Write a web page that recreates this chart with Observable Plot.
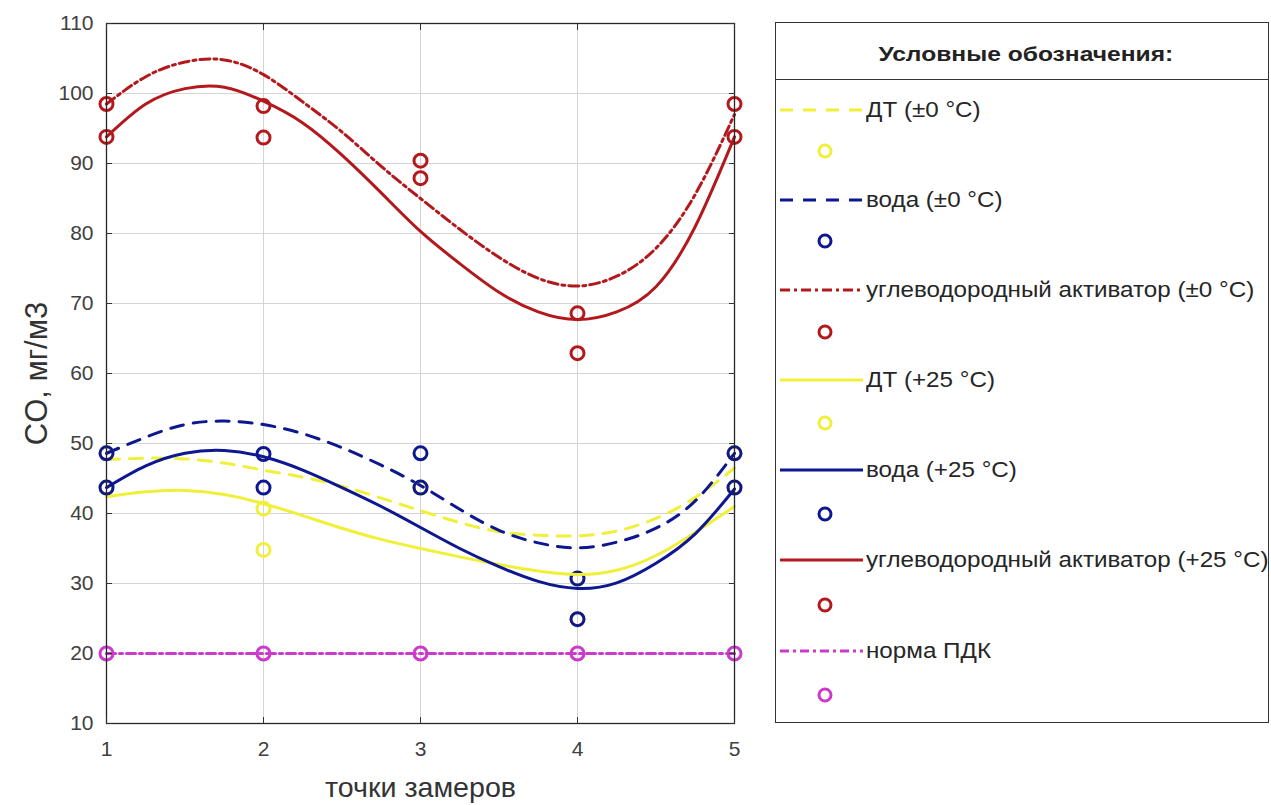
<!DOCTYPE html>
<html>
<head>
<meta charset="utf-8">
<script src="https://cdn.jsdelivr.net/npm/d3@7"></script>
<script src="https://cdn.jsdelivr.net/npm/@observablehq/plot@0.6"></script>
<style>
  body { margin: 0; background: #fff; font-family: "Liberation Sans", Arial, sans-serif; }
  #wrap { position: relative; width: 1271px; height: 805px; overflow: hidden; }
  #chart { position: absolute; left: 0; top: 0; }
  #legend { position: absolute; left: 775px; top: 22px; width: 494px; height: 701px; border: 1.3px solid #333; box-sizing: border-box; background: #fff; }
  #legend .title { height: 57px; border-bottom: 1.3px solid #333; display: flex; align-items: center; justify-content: center; padding-left: 8px; padding-top: 5px; box-sizing: border-box; font-weight: bold; font-size: 20.5px; color: #222; }
  #legend .title span { display: inline-block; transform: scaleX(1.2); }
  #legend .row { position: absolute; left: 0; height: 30px; display: flex; align-items: center; font-size: 22px; color: #262626; white-space: nowrap; }
  #legend .row span { display: inline-block; transform: scaleX(1.1); transform-origin: left center; }
</style>
</head>
<body>
<div id="wrap">
  <div id="chart"></div>
  <div id="legend"><div class="title"><span>Условные обозначения:</span></div></div>
</div>
<script>
// ---- data ----
const xTicks = [1, 2, 3, 4, 5];
const yTicks = [10, 20, 30, 40, 50, 60, 70, 80, 90, 100, 110];

// measured points (circles)
const dtZeroPts    = [48.6, 40.7, 43.7, 30.7, 48.6];
const vodaZeroPts  = [48.6, 48.5, 48.6, 30.7, 48.6];
const uvaZeroPts   = [98.5, 98.2, 90.4, 68.6, 98.5];
const dt25Pts      = [43.7, 34.8, 43.7, 24.9, 43.7];
const voda25Pts    = [43.7, 43.7, 43.7, 24.9, 43.7];
const uva25Pts     = [93.8, 93.7, 87.9, 62.9, 93.8];
const pdkPts       = [20, 20, 20, 20, 20];

// approximating curves at these positions
const curveX = [1, 1.25, 1.5, 1.75, 2, 2.25, 2.5, 2.75, 3, 3.25, 3.5, 3.75, 4, 4.25, 4.5, 4.75, 5];
const dtZeroCurve   = [47.7, 47.9, 47.8, 47.2, 46.2, 45.2, 43.9, 42.2, 40.4, 38.7, 37.4, 36.9, 36.8, 37.5, 39.3, 42.3, 46.5];
const vodaZeroCurve = [48.6, 50.9, 52.7, 53.2, 52.7, 51.4, 49.4, 46.9, 44.0, 40.6, 37.6, 35.8, 35.1, 35.9, 37.9, 41.8, 48.6];
const uvaZeroCurve  = [98.5, 102.4, 104.5, 104.8, 102.7, 98.8, 94.5, 89.6, 85.0, 80.6, 76.6, 73.6, 72.5, 73.9, 77.9, 85.6, 97.0];
const dt25Curve     = [42.4, 43.1, 43.3, 42.7, 41.4, 39.7, 37.9, 36.3, 35.0, 33.8, 32.7, 31.8, 31.3, 31.9, 34.0, 37.3, 41.0];
const voda25Curve   = [43.7, 46.8, 48.6, 49.0, 48.1, 46.2, 43.7, 41.0, 38.0, 35.0, 32.4, 30.3, 29.3, 30.1, 32.9, 37.1, 43.5];
const uva25Curve    = [93.8, 98.5, 100.7, 100.9, 98.9, 95.8, 91.2, 85.8, 80.3, 75.7, 71.6, 68.8, 67.7, 68.8, 72.4, 81.0, 93.8];
const pdkCurve      = [20, 20, 20, 20, 20, 20, 20, 20, 20, 20, 20, 20, 20, 20, 20, 20, 20];

const seriesLabels = [
  "ДТ (±0 °C)",
  "вода (±0 °C)",
  "углеводородный активатор (±0 °C)",
  "ДТ (+25 °C)",
  "вода (+25 °C)",
  "углеводородный активатор (+25 °C)",
  "норма ПДК"
];
const seriesColors = ["#f0f03a", "#0d178f", "#b3191c", "#f0f03a", "#0d178f", "#b3191c", "#cc3acc"];
const seriesDash   = ["13,10", "13,10", "10,4,3,4", null, null, null, "9,4,3,4"];

const allPts = [dtZeroPts, vodaZeroPts, uvaZeroPts, dt25Pts, voda25Pts, uva25Pts, pdkPts];
const allCurves = [dtZeroCurve, vodaZeroCurve, uvaZeroCurve, dt25Curve, voda25Curve, uva25Curve, pdkCurve];

// ---- chart ----
const marks = [
  Plot.gridX(xTicks, {stroke: "#d4d4d4", strokeOpacity: 1}),
  Plot.gridY(yTicks, {stroke: "#d4d4d4", strokeOpacity: 1})
];
seriesLabels.forEach((lab, i) => {
  const lineData = curveX.map((x, j) => ({x, y: allCurves[i][j]}));
  const ptData = xTicks.map((x, j) => ({x, y: allPts[i][j]}));
  marks.push(Plot.line(lineData, {
    x: "x", y: "y", curve: "natural",
    stroke: seriesColors[i], strokeWidth: 3,
    strokeDasharray: seriesDash[i] || undefined
  }));
  marks.push(Plot.dot(ptData, {
    x: "x", y: "y", r: 6.5, stroke: seriesColors[i], strokeWidth: 3, fill: "none"
  }));
});
marks.push(
  Plot.frame({stroke: "#262626", strokeWidth: 1.3}),
  Plot.axisX(xTicks, {anchor: "bottom", tickSize: -6, tickPadding: 24, tickFormat: d => String(d), fill: "#404040", label: null}),
  Plot.axisX(xTicks, {anchor: "top", tickSize: -6, tickFormat: () => "", label: null}),
  Plot.axisY(yTicks, {anchor: "left", tickSize: -6, tickPadding: 19, tickFormat: d => String(d), fill: "#404040", label: null}),
  Plot.axisY(yTicks, {anchor: "right", tickSize: -6, tickFormat: () => "", label: null}),
  Plot.text(["точки замеров"], {frameAnchor: "bottom", dy: 73, fontSize: 28, fill: "#333", className: "xlab"}),
  Plot.text(["CO, мг/м3"], {frameAnchor: "left", textAnchor: "middle", dx: -69, rotate: -90, fontSize: 31, fill: "#333"})
);

const chart = Plot.plot({
  width: 760,
  height: 805,
  marginLeft: 106,
  marginRight: 26,
  marginTop: 23,
  marginBottom: 82,
  x: {domain: [1, 5]},
  y: {domain: [10, 110]},
  style: {fontFamily: "'Liberation Sans', Arial, sans-serif", fontSize: "21px", background: "white", color: "#333"},
  marks
});
document.getElementById("chart").appendChild(chart);
d3.select(chart).selectAll('g[aria-label="x-axis tick label"], g[aria-label="y-axis tick label"]')
  .attr("font-size", 21);
d3.select(chart).selectAll(".xlab text").attr("textLength", 191).attr("lengthAdjust", "spacingAndGlyphs");

// ---- legend ----
const legend = document.getElementById("legend");
seriesLabels.forEach((lab, i) => {
  const lineRowY = 86.7 + i * 90.15;
  const dotRowY = 127.5 + i * 90.8;
  const r1 = document.createElement("div");
  r1.className = "row";
  r1.style.top = (lineRowY - 15) + "px";
  const dash = seriesDash[i] ? `stroke-dasharray="${seriesDash[i]}"` : "";
  r1.innerHTML = `<svg width="90" height="30" style="display:block"><line x1="4" x2="87" y1="15" y2="15" stroke="${seriesColors[i]}" stroke-width="3" ${dash}/></svg><span>${lab}</span>`;
  legend.appendChild(r1);
  const r2 = document.createElement("div");
  r2.className = "row";
  r2.style.top = (dotRowY - 15) + "px";
  r2.innerHTML = `<svg width="90" height="30" style="display:block"><circle cx="49" cy="15" r="6" fill="none" stroke="${seriesColors[i]}" stroke-width="3"/></svg>`;
  legend.appendChild(r2);
});
</script>
</body>
</html>
